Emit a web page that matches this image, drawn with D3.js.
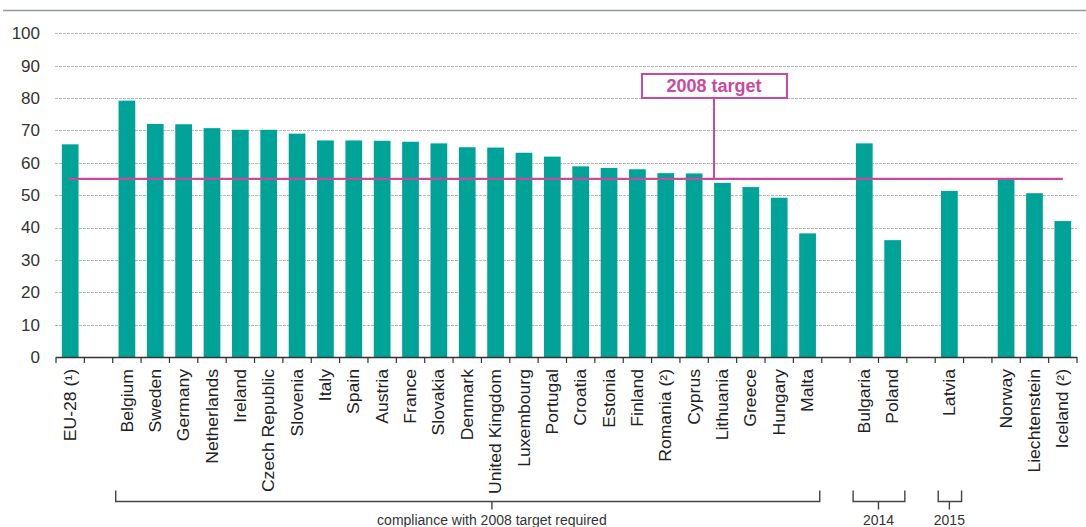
<!DOCTYPE html>
<html>
<head>
<meta charset="utf-8">
<script src="https://cdn.jsdelivr.net/npm/d3@7"></script>
<style>
body { margin: 0; background: #fff; }
svg { display: block; font-family: "Liberation Sans", Arial, sans-serif; }
.grid line { stroke: #b8b8b8; stroke-dasharray: 3,1; }
.ylab { font-size: 17px; fill: #333; }
.xlab { font-size: 16px; fill: #222; }
.bracket { fill: none; stroke: #444; stroke-width: 1.4px; }
.blabel { font-size: 14px; fill: #333; }
</style>
</head>
<body>
<svg width="1086" height="527"></svg>
<script>

// slots along the x axis, "" = empty gap slot
var labels = ["EU-28 (\u00b9)", "", "Belgium", "Sweden", "Germany", "Netherlands", "Ireland",
	"Czech Republic", "Slovenia", "Italy", "Spain", "Austria", "France", "Slovakia", "Denmark",
	"United Kingdom", "Luxembourg", "Portugal", "Croatia", "Estonia", "Finland", "Romania (\u00b2)",
	"Cyprus", "Lithuania", "Greece", "Hungary", "Malta", "", "Bulgaria", "Poland", "", "Latvia", "",
	"Norway", "Liechtenstein", "Iceland (\u00b2)"];
var values = [65.7, null, 79.2, 72.0, 71.9, 70.7, 70.2,
	70.2, 69.0, 66.9, 66.9, 66.8, 66.5, 66.0, 64.8,
	64.7, 63.1, 61.9, 58.9, 58.4, 58.0, 56.8,
	56.7, 53.8, 52.5, 49.2, 38.2, null, 66.0, 36.1, null, 51.3, null,
	54.9, 50.6, 42.0];
var yTicks = [0, 10, 20, 30, 40, 50, 60, 70, 80, 90, 100];
var target = 55;
var targetLabel = "2008 target";
var groups = [
	{first: 2, last: 26, label: "compliance with 2008 target required", at: 15.37},
	{first: 28, last: 29, label: "2014", at: 29},
	{first: 31, last: 31, label: "2015", at: 31.5}
];

var teal = "#00a398", magenta = "#c64a9e";
var svg = d3.select("svg");

var slots = labels.map(function(d, i) { return i; });
var x = d3.scaleBand().domain(slots).range([56, 1077]).paddingInner(0.41).paddingOuter(0.205);
var y = d3.scaleLinear().domain([0, 100]).range([357, 33.3]);
var step = x.step();
var x0 = x.range()[0];

// top rule
svg.append("line").attr("x1", 3).attr("x2", 1086).attr("y1", 10.5).attr("y2", 10.5)
	.attr("stroke", "#8f9a95").attr("stroke-width", 1.3);

// grid
svg.append("g").attr("class", "grid").selectAll("line")
	.data(yTicks.filter(function(d) { return d > 0; }))
	.enter().append("line")
	.attr("x1", 55).attr("x2", 1077)
	.attr("y1", function(d) { return Math.round(y(d)) + 0.5; })
	.attr("y2", function(d) { return Math.round(y(d)) + 0.5; });

svg.append("g").selectAll("text").data(yTicks).enter().append("text")
	.attr("class", "ylab")
	.attr("x", 40).attr("y", function(d) { return y(d); })
	.attr("dy", "0.35em").attr("text-anchor", "end")
	.text(function(d) { return d; });

// bars
svg.append("g").selectAll("rect")
	.data(slots.filter(function(i) { return values[i] != null; }))
	.enter().append("rect")
	.attr("x", function(i) { return x(i); })
	.attr("width", x.bandwidth())
	.attr("y", function(i) { return y(values[i]); })
	.attr("height", function(i) { return y(0) - y(values[i]); })
	.attr("fill", teal);

// x axis with ticks at slot boundaries
svg.append("line").attr("x1", x0).attr("x2", x.range()[1])
	.attr("y1", 357.5).attr("y2", 357.5).attr("stroke", "#333").attr("stroke-width", 1.3);
svg.append("g").selectAll("line").data(d3.range(labels.length + 1)).enter().append("line")
	.attr("x1", function(i) { return x0 + i * step; })
	.attr("x2", function(i) { return x0 + i * step; })
	.attr("y1", 357).attr("y2", 363)
	.attr("stroke", "#333").attr("stroke-width", 1.2);

svg.append("g").selectAll("text")
	.data(slots.filter(function(i) { return labels[i] !== ""; }))
	.enter().append("text")
	.attr("class", "xlab")
	.attr("text-anchor", "end")
	.attr("dy", "0.35em")
	.attr("transform", function(i) {
		return "translate(" + (x(i) + x.bandwidth() / 2) + ",369) rotate(-90) scale(1.1,1)";
	})
	.text(function(i) { return labels[i]; });

// target line and label
svg.append("line")
	.attr("x1", x(0) + x.bandwidth() / 2 - 2).attr("x2", x(labels.length - 1) + x.bandwidth() / 2)
	.attr("y1", y(target)).attr("y2", y(target))
	.attr("stroke", magenta).attr("stroke-width", 2.2);
var tx = x0 + 23.2 * step;
svg.append("line").attr("x1", tx).attr("x2", tx).attr("y1", 98).attr("y2", y(target))
	.attr("stroke", magenta).attr("stroke-width", 2);
svg.append("rect").attr("x", tx - 72).attr("y", 74).attr("width", 145).attr("height", 24)
	.attr("fill", "#fff").attr("stroke", magenta).attr("stroke-width", 2);
svg.append("text").attr("x", tx).attr("y", 86).attr("dy", "0.35em")
	.attr("text-anchor", "middle").attr("font-size", "18px").attr("font-weight", "bold")
	.attr("fill", magenta).text(targetLabel);

// group brackets
var by = 501.5;
groups.forEach(function(g) {
	var a = x0 + g.first * step + 3, b = x0 + (g.last + 1) * step - 2;
	var c = x0 + g.at * step;
	svg.append("path").attr("class", "bracket")
		.attr("d", "M" + a + "," + (by - 11) + "V" + by + "H" + b + "V" + (by - 11) +
			"M" + c + "," + by + "V" + (by + 8));
	svg.append("text").attr("class", "blabel")
		.attr("x", c).attr("y", 525).attr("text-anchor", "middle")
		.text(g.label);
});
</script>
</body>
</html>
